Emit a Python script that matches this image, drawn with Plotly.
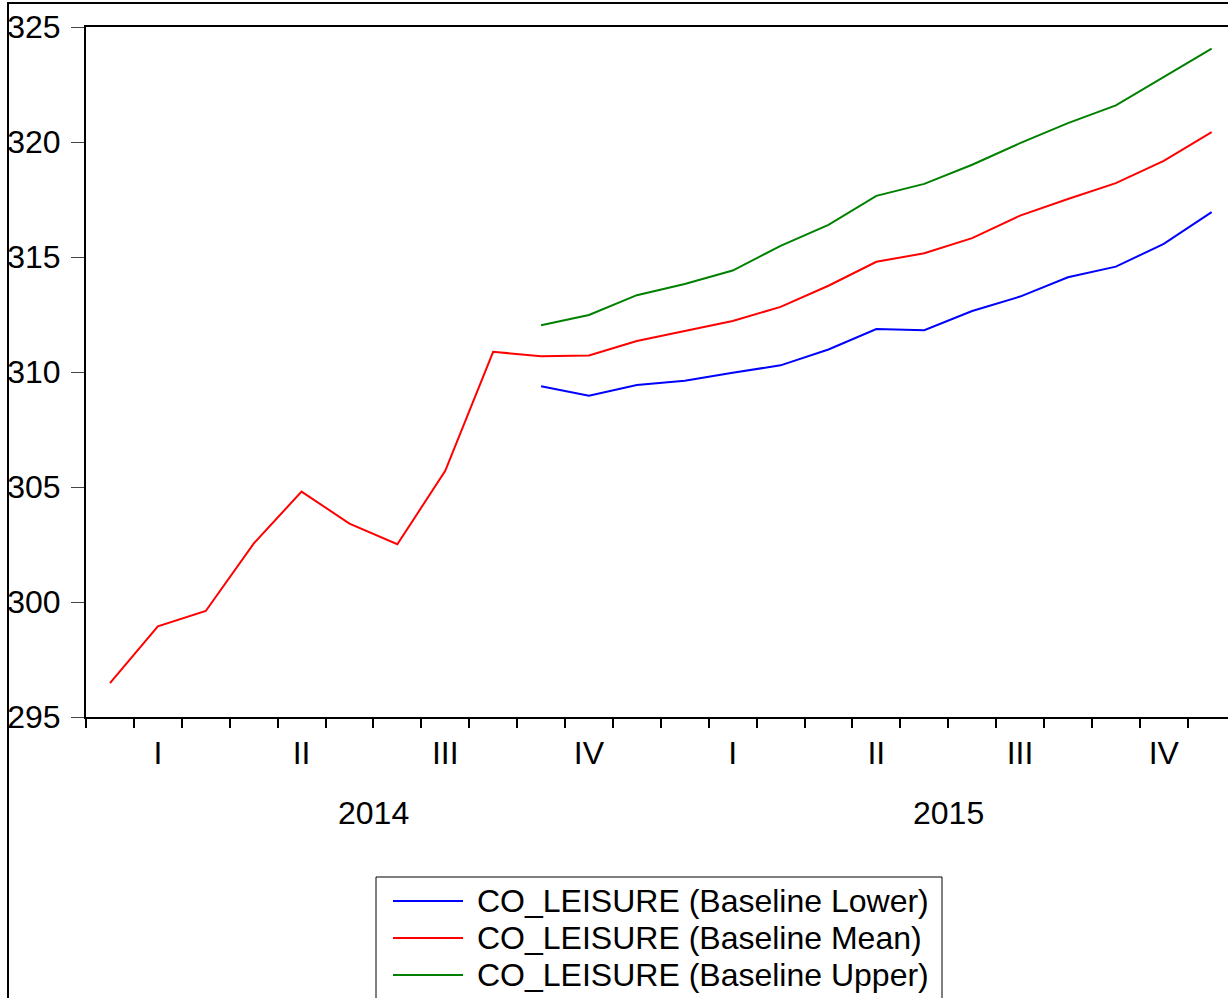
import plotly.graph_objects as go

# months Jan-2014 .. Dec-2015 as integer index (0 = 2014M01)
months = list(range(24))
quarter_centers = [1, 4, 7, 10, 13, 16, 19, 22]
quarter_labels = ["I", "II", "III", "IV", "I", "II", "III", "IV"]
quarter_bounds = [-0.5, 2.5, 5.5, 8.5, 11.5, 14.5, 17.5, 20.5, 23.5]
month_bounds = [m - 0.5 for m in range(25)]
year_centers = [5.5, 17.5]
year_labels = ["2014", "2015"]

mean_vals = [296.47, 298.94, 299.61, 302.54, 304.80, 303.41, 302.51, 305.70,
             310.88, 310.68, 310.72, 311.35, 311.78, 312.22, 312.83, 313.75,
             314.79, 315.16, 315.82, 316.80, 317.52, 318.21, 319.18, 320.43]
upper_vals = [None] * 9 + [312.03, 312.48, 313.34, 313.83, 314.41, 315.48, 316.40,
                           317.66, 318.18, 319.01, 319.95, 320.82, 321.59, 322.83, 324.06]
lower_vals = [None] * 9 + [309.38, 308.97, 309.43, 309.62, 309.97, 310.29, 310.98,
                           311.87, 311.82, 312.65, 313.28, 314.12, 314.58, 315.57, 316.95]

names = ["CO_LEISURE (Baseline Lower)", "CO_LEISURE (Baseline Mean)", "CO_LEISURE (Baseline Upper)"]
colors = ["#0000FF", "#FF0000", "#008000"]

FONT = "Liberation Sans, Arial, sans-serif"
W, H = 1228, 998
L, R, T, B = 86, 0, 27, 281
PW, PH = W - L - R, H - T - B


def px(p):
    return (p - L) / PW


def py(p):
    return (H - B - p) / PH


fig = go.Figure()
fig.add_trace(go.Scatter(x=months, y=lower_vals, mode="lines", name=names[0],
                         line=dict(color=colors[0], width=2)))
fig.add_trace(go.Scatter(x=months, y=mean_vals, mode="lines", name=names[1],
                         line=dict(color=colors[1], width=2)))
fig.add_trace(go.Scatter(x=months, y=upper_vals, mode="lines", name=names[2],
                         line=dict(color=colors[2], width=2), xaxis="x2"))

month_px = 47.9
x_end = -0.5 + PW / month_px

fig.update_layout(
    width=W, height=H,
    margin=dict(l=L, r=R, t=T, b=B, pad=0, autoexpand=False),
    paper_bgcolor="white", plot_bgcolor="white",
    font=dict(family=FONT, size=32, color="black"),
    showlegend=False,
    xaxis=dict(
        range=[-0.5, x_end], showgrid=False, zeroline=False, automargin=False,
        showline=True, linecolor="black", linewidth=2, mirror=True,
        tickmode="array", tickvals=quarter_bounds, ticktext=[""] * len(quarter_bounds),
        ticks="outside", ticklen=17, tickwidth=1.5, tickcolor="black",
        minor=dict(tickmode="array", tickvals=month_bounds, ticks="outside",
                   ticklen=9, tickwidth=1.5, tickcolor="black", showgrid=False),
    ),
    xaxis2=dict(
        overlaying="x", matches="x", anchor="y", side="bottom", automargin=False,
        showgrid=False, zeroline=False, showline=False,
        tickmode="array", tickvals=quarter_centers, ticktext=quarter_labels,
        ticks="", ticklabelstandoff=14,
        tickfont=dict(family=FONT, size=32, color="black"),
    ),
    yaxis=dict(
        range=[295, 325], tickmode="linear", tick0=295, dtick=5, automargin=False,
        showgrid=False, zeroline=False,
        showline=True, linecolor="black", linewidth=2, mirror=False,
        ticks="outside", ticklen=13, tickwidth=1, tickcolor="#444444",
        ticklabelstandoff=4,
        tickfont=dict(family=FONT, size=32, color="black"),
    ),
)

for xc, lab in zip(year_centers, year_labels):
    fig.add_annotation(x=xc, xref="x", y=py(813), yref="paper",
                       text=lab, showarrow=False, xanchor="center", yanchor="middle",
                       font=dict(family=FONT, size=32, color="black"))

# outer frame (left and top edges visible, rest beyond the page)
fig.add_shape(type="rect", xref="paper", yref="paper",
              x0=px(8), x1=px(1300), y0=py(3), y1=py(1100),
              line=dict(color="black", width=2), fillcolor="rgba(0,0,0,0)", layer="above")

# legend box drawn as shapes + text, EViews style
fig.add_shape(type="rect", xref="paper", yref="paper",
              x0=px(376), x1=px(942), y0=py(877), y1=py(1010),
              line=dict(color="black", width=1), fillcolor="white", layer="above")
row_y = [901, 938, 975]
for name, col, ry in zip(names, colors, row_y):
    fig.add_shape(type="line", xref="paper", yref="paper",
                  x0=px(393), x1=px(463), y0=py(ry), y1=py(ry),
                  line=dict(color=col, width=2), layer="above")
    fig.add_annotation(x=px(475), xref="paper", y=py(ry), yref="paper",
                       text=name, showarrow=False, xanchor="left", yanchor="middle",
                       font=dict(family=FONT, size=32, color="black"))

fig.write_html("out.html", config={"displayModeBar": False},
               post_script="document.body.style.margin='0';document.body.style.overflow='hidden';")
